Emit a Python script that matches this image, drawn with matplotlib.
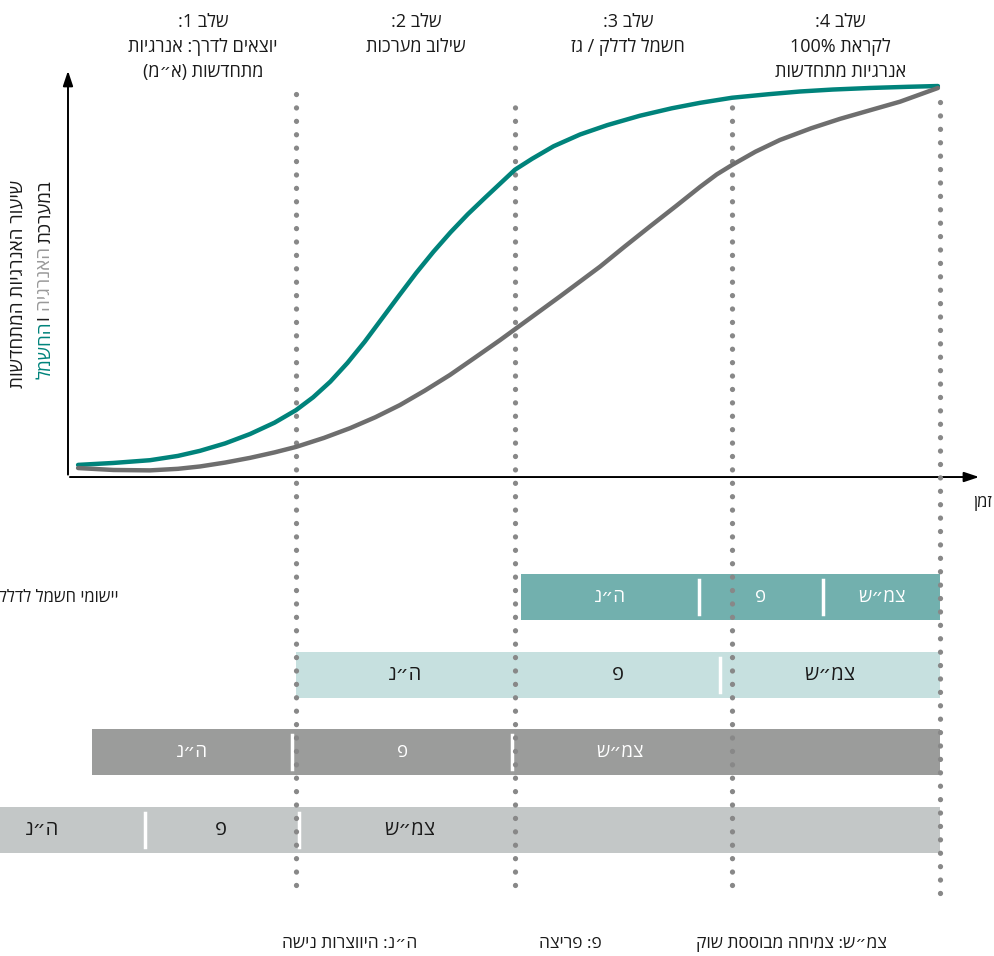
import re
import matplotlib
matplotlib.use("Agg")
import matplotlib.pyplot as plt

plt.rcParams['font.family'] = ['Open Sans', 'DejaVu Sans']


def rtl(s):
    # matplotlib has no bidi support: flip Hebrew into visual order, keep numbers LTR
    r = s[::-1]
    r = re.sub(r'[0-9%]+', lambda m: m.group(0)[::-1], r)
    return r.translate(str.maketrans('()', ')('))


# --- curves: share of renewables over time ---
teal_t = [-0.015, 0.15, 0.32, 0.45, 0.553, 0.67, 0.786, 0.90, 1.0, 1.08, 1.16, 1.24, 1.32,
          1.40, 1.48, 1.56, 1.64, 1.72, 1.80, 1.88, 1.95, 2.02, 2.10, 2.20, 2.323, 2.45,
          2.602, 2.75, 2.882, 3.031, 3.20, 3.348, 3.50, 3.674, 3.85, 3.99]
teal_v = [3.1, 3.6, 4.3, 5.4, 6.7, 8.6, 11.0, 13.9, 17.1, 20.4, 24.4, 29.2, 34.6,
          40.5, 46.4, 52.2, 57.6, 62.6, 67.2, 71.4, 75.0, 78.6, 81.4, 84.6, 87.6, 90.0,
          92.4, 94.3, 95.7, 97.0, 97.9, 98.6, 99.1, 99.5, 99.8, 100.0]

gray_t = [-0.015, 0.15, 0.32, 0.45, 0.553, 0.67, 0.786, 0.90, 1.0, 1.13, 1.252, 1.37, 1.484,
          1.60, 1.717, 1.83, 1.95, 2.09, 2.23, 2.416, 2.53, 2.649, 2.77, 2.882, 2.96,
          3.031, 3.14, 3.254, 3.40, 3.534, 3.68, 3.814, 3.99]
gray_v = [2.3, 1.8, 1.7, 2.1, 2.7, 3.7, 4.9, 6.3, 7.7, 10.0, 12.5, 15.3, 18.4,
          22.1, 26.1, 30.4, 35.0, 40.6, 46.2, 53.8, 58.9, 64.1, 69.3, 74.2, 77.4,
          79.8, 83.2, 86.2, 89.2, 91.6, 93.9, 96.0, 99.5]

# stage boundaries (dotted lines) and their top ends
stage_x = [1.0, 2.02, 3.03, 4.0]
stage_top = [100.0, 97.0, 97.0, 97.0]
stage_bottom = [-104.3, -104.3, -104.3, -106.4]

stage_titles = ["שלב 1:", "שלב 2:", "שלב 3:", "שלב 4:"]
stage_names = [["יוצאים לדרך: אנרגיות", "מתחדשות (א״מ)"],
               ["שילוב מערכות"],
               ["חשמל לדלק / גז"],
               ["לקראת 100%", "אנרגיות מתחדשות"]]
stage_label_x = [0.567, 1.559, 2.546, 3.538]

# --- phase bars (one row per application) ---
row_y = [-30.7, -50.6, -70.3, -90.3]
row_edges = [[2.049, 2.877, 3.455, 4.0],
             [1.0, 2.02, 2.975, 4.0],
             [0.05, 0.981, 2.015, 3.0, 4.0],
             [-0.663, 0.297, 1.005, 2.05, 4.0]]
row_labels = [["ה״נ", "פ", "צמ״ש"],
              ["ה״נ", "פ", "צמ״ש"],
              ["ה״נ", "פ", "צמ״ש", ""],
              ["ה״נ", "פ", "צמ״ש", ""]]
row_dividers = [[2.877, 3.455], [2.975], [0.981, 2.008], [0.297, 1.012]]
row_colors = ["#72b0ae", "#c6e0df", "#9b9c9b", "#c3c7c7"]
row_text_colors = ["white", "#1a1a1a", "white", "#1a1a1a"]
row_text_sizes = [13.5, 14.5, 13.5, 14.5]
row_names = ["יישומי חשמל לדלק / גז"]

legend_items = ["צמ״ש: צמיחה מבוססת שוק", "פ: פריצה", "ה״נ: היווצרות נישה"]
legend_x = [3.31, 2.276, 1.251]

TEAL = "#00837b"
GRAY = "#6e6e6e"
DOT = "#888888"
INK = "#1a1a1a"

fig = plt.figure(figsize=(9.95, 9.56), dpi=100)
ax = fig.add_axes([0, 0, 1, 1])
ax.set_xlim(-0.3787, 4.2559)
ax.set_ylim(-122.5, 122.0)
ax.axis("off")

# axes arrows
ax.annotate("", xy=(-0.062, 104.6), xytext=(-0.062, -0.1),
            arrowprops=dict(arrowstyle="-|>,head_length=0.9,head_width=0.3", color="black", lw=1.4))
ax.annotate("", xy=(4.195, 0), xytext=(-0.066, 0),
            arrowprops=dict(arrowstyle="-|>,head_length=0.9,head_width=0.3", color="black", lw=1.4))
ax.text(4.2, -6.6, rtl("זמן"), ha="center", va="center", fontsize=12, color=INK)

# dotted stage lines
for x, top, bot in zip(stage_x, stage_top, stage_bottom):
    ax.plot([x, x], [bot, top], color=DOT, lw=3.8, linestyle=(0, (0.01, 2.53)),
            dash_capstyle="round", zorder=3)

# curves
ax.plot(teal_t, teal_v, color=TEAL, lw=3.2, solid_capstyle="round",
        solid_joinstyle="round", zorder=4)
ax.plot(gray_t, gray_v, color=GRAY, lw=3.2, solid_capstyle="round",
        solid_joinstyle="round", zorder=4)

# stage headings
for x, title, names in zip(stage_label_x, stage_titles, stage_names):
    lines = [title] + names
    for i, line in enumerate(lines):
        ax.text(x, 116.5 - i * 6.4, rtl(line), ha="center", va="center",
                fontsize=13, color=INK)

# y axis label, second line is coloured word by word
ax.text(-0.295, 76.0, rtl("שיעור האנרגיות המתחדשות"), rotation=90,
        ha="center", va="top", fontsize=13.5, color=INK)
pieces = [("במערכת", INK), (" האנרגיה", "#999999"), (" ו", INK), ("החשמל", TEAL)]
prev = ax.text(-0.169, 76.0, rtl(pieces[0][0]), rotation=90, ha="center", va="top",
               fontsize=13.5, color=pieces[0][1])
for word, col in pieces[1:]:
    prev = ax.annotate(rtl(word), xy=(0.5, 0), xycoords=prev, rotation=90,
                       ha="center", va="top", fontsize=13.5, color=col)

# phase bars
bar_h = 11.8
for y, edges, labels, divs, col, tcol, tsize in zip(row_y, row_edges, row_labels, row_dividers,
                                                   row_colors, row_text_colors, row_text_sizes):
    ax.barh(y, edges[-1] - edges[0], left=edges[0], height=bar_h, color=col, zorder=2)
    for lo, hi, lab in zip(edges[:-1], edges[1:], labels):
        if lab:
            ax.text((lo + hi) / 2, y, rtl(lab), ha="center", va="center",
                    fontsize=tsize, color=tcol, zorder=5)
    for d in divs:
        ax.plot([d, d], [y - 4.4, y + 4.4], color="white", lw=2.5, zorder=2.5)

ax.text(0.172, row_y[0], rtl(row_names[0]), ha="right", va="center", fontsize=12, color=INK)

# legend of phase abbreviations
for x, item in zip(legend_x, legend_items):
    ax.text(x, -119.4, rtl(item), ha="center", va="center", fontsize=12.5, color=INK)

fig.savefig("out.png", dpi=100)
